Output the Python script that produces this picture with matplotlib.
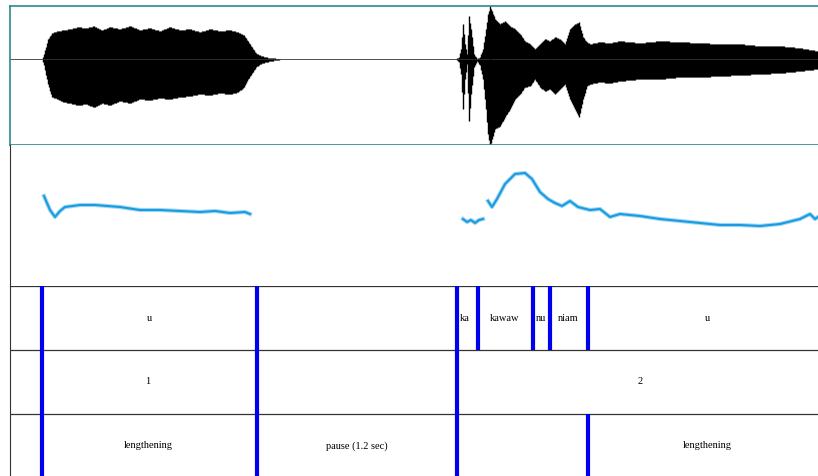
import numpy as np
import matplotlib.pyplot as plt

# temps exprimé en pixels de la fenêtre d'origine (10 .. 818)
env_x = [10, 42, 44, 48, 52, 58, 64, 70, 78, 86, 94, 102, 110, 120, 130, 140, 150, 160, 170, 180,
         190, 200, 210, 220, 230, 238, 244, 248, 252, 256, 262, 270, 282,
         456, 459, 461, 463, 465, 467, 469, 471, 474, 477, 480, 483, 486, 488, 490, 492, 495, 500,
         505, 510, 515, 520, 525, 530, 535, 540, 545, 550, 555, 560, 565, 570, 575, 579, 583, 587,
         590, 600, 610, 620, 640, 660, 680, 700, 720, 740, 760, 780, 800, 818]
env_hi = [60, 60, 55, 40, 34, 32, 31, 30, 28, 29, 27, 31, 28, 30, 27, 31, 29, 32, 28, 31,
          30, 33, 30, 32, 31, 33, 36, 42, 48, 54, 57, 59, 60,
          60, 58, 50, 25, 45, 55, 17, 30, 55, 60, 58, 50, 30, 15, 8, 12, 20, 25,
          22, 27, 30, 35, 42, 45, 50, 45, 40, 42, 38, 40, 45, 30, 25, 23, 38, 43,
          45, 43, 44, 42, 44, 42, 43, 44, 45, 45, 47, 47, 49, 52]
env_lo = [60, 60, 66, 85, 98, 100, 103, 104, 106, 105, 108, 104, 106, 102, 104, 100, 101, 99, 100, 98,
          97, 95, 96, 94, 95, 93, 88, 80, 74, 68, 64, 62, 60,
          60, 63, 75, 110, 80, 65, 122, 95, 68, 62, 66, 80, 110, 135, 147, 140, 130, 127,
          118, 110, 100, 95, 88, 87, 80, 88, 92, 90, 95, 90, 85, 100, 110, 118, 100, 87,
          85, 83, 84, 82, 80, 80, 78, 78, 77, 76, 75, 74, 72, 70]

pitch1_x = [44, 50, 55, 60, 65, 80, 95, 120, 140, 160, 180, 200, 215, 230, 245, 250]
pitch1_y = [197, 211, 218, 212, 208, 206, 206, 208, 211, 211, 212, 213, 212, 214, 213, 215]
pitch2_x = [463, 467, 471, 475, 479, 483]
pitch2_y = [220, 223, 221, 224, 221, 220]
pitch3_x = [488, 492, 497, 505, 515, 525, 532, 540, 548, 555, 562, 570, 578, 590, 600, 610, 620,
            640, 660, 680, 700, 720, 740, 760, 780, 800, 810, 815, 818]
pitch3_y = [202, 208, 200, 185, 175, 174, 180, 193, 200, 204, 207, 202, 208, 211, 210, 218, 215,
            217, 220, 222, 224, 226, 226, 227, 225, 220, 215, 220, 218]

tier1_bounds = [42, 257, 457, 478, 533, 550, 588]
tier1_labels = ["u", "ka", "kawaw", "nu", "niam", "u"]
tier1_pos = [149, 465, 505, 541, 568, 707]
tier2_bounds = [42, 257, 457]
tier2_labels = ["1", "2"]
tier2_pos = [148, 640]
tier3_bounds = [42, 257, 457, 588]
tier3_labels = ["lengthening", "pause (1.2 sec)", "lengthening"]
tier3_pos = [148, 357, 707]

W, H = 818, 477
fig = plt.figure(figsize=(W / 100, H / 100), dpi=100)

def make_ax(top, bottom):
    ax = fig.add_axes([10 / W, 1 - bottom / H, (W - 10) / W, (bottom - top) / H])
    ax.set_xlim(10, 818)
    ax.set_ylim(bottom, top)
    ax.set_xticks([])
    ax.set_yticks([])
    return ax

# forme d'onde
ax1 = make_ax(7, 146)
xx = np.arange(10, 819)
hi = np.interp(xx, env_x, env_hi)
lo = np.interp(xx, env_x, env_lo)
ax1.vlines(xx, hi, lo, color='black', lw=1.0)
ax1.plot(xx, np.full(len(xx), 60), color='#333333', lw=0.6)
ax1.axvline(490, color='black', lw=0.8)
for s in ax1.spines.values():
    s.set_color('#2a8a8a')
    s.set_linewidth(1.2)
ax1.spines['right'].set_visible(False)

# courbe de f0
ax2 = make_ax(146, 287)
for px, py in [(pitch1_x, pitch1_y), (pitch2_x, pitch2_y), (pitch3_x, pitch3_y)]:
    ax2.plot(px, py, color='#9fd8f5', lw=3.0)
    ax2.plot(px, py, color='#1a9be0', lw=1.5)
for k in ['top', 'right', 'bottom']:
    ax2.spines[k].set_visible(False)
ax2.spines['left'].set_color('#333333')

# tiers
ax3 = make_ax(287, 477)
for y in [287, 351, 415]:
    ax3.axhline(y, color='#333333', lw=0.9)
for k in ['top', 'right', 'bottom']:
    ax3.spines[k].set_visible(False)
ax3.spines['left'].set_color('#333333')
blue = '#0000ee'
for x in tier1_bounds:
    ax3.vlines(x, 287, 351, color=blue, lw=3)
for x in tier2_bounds:
    ax3.vlines(x, 351, 415, color=blue, lw=3)
for x in tier3_bounds:
    ax3.vlines(x, 415, 477, color=blue, lw=3)
font = dict(family='Liberation Serif', fontsize=7.5, ha='center', va='center')
for t, x in zip(tier1_labels, tier1_pos):
    ax3.text(x, 319, t, **font)
for t, x in zip(tier2_labels, tier2_pos):
    ax3.text(x, 382, t, **font)
for t, x in zip(tier3_labels, tier3_pos):
    ax3.text(x, 446, t, **font)

fig.savefig('out.png', dpi=100)
